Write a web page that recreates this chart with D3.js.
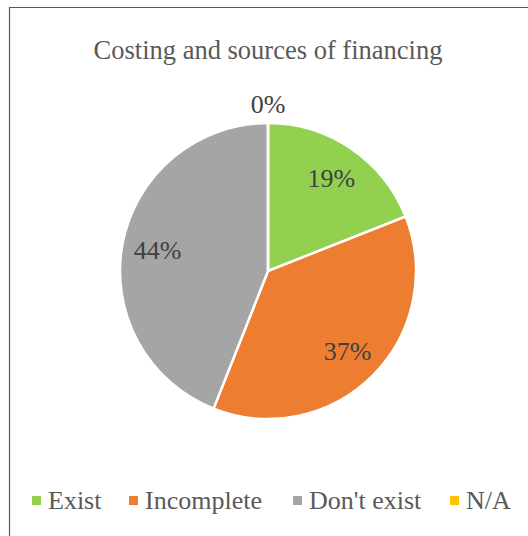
<!DOCTYPE html>
<html>
<head>
<meta charset="utf-8">
<script src="https://cdn.jsdelivr.net/npm/d3@7"></script>
<style>
  body { margin: 0; background: #fff; }
  text { font-family: "Liberation Serif", "Times New Roman", serif; }
</style>
</head>
<body>
<svg width="528" height="536"></svg>
<script>
// Data
const categories = ["Exist", "Incomplete", "Don't exist", "N/A"]
const values = [19, 37, 44, 0]
const labels = ["19%", "37%", "44%", "0%"]
const colors = ["#92D050", "#ED7D31", "#A5A5A5", "#FFC000"]

const svg = d3.select("svg")

// chart frame (only top and left edges visible)
svg.append("path")
    .attr("d", "M9.5,536 V7.5 H528")
    .attr("fill", "none")
    .attr("stroke", "#595959")
    .attr("stroke-width", 1.2)

// title
svg.append("text")
    .attr("x", 268).attr("y", 59)
    .attr("text-anchor", "middle")
    .attr("font-size", 26.5)
    .attr("fill", "#595959")
    .text("Costing and sources of financing")

const cx = 268, cy = 271, r = 148

const pie = d3.pie().sort(null).value(d => d)
const arcs = pie(values)
const arc = d3.arc().innerRadius(0).outerRadius(r)

const g = svg.append("g").attr("transform", `translate(${cx},${cy})`)

g.selectAll("path")
    .data(arcs)
    .join("path")
    .attr("d", arc)
    .attr("fill", (d, i) => colors[i])
    .attr("stroke", "white")
    .attr("stroke-width", 2.5)

// data labels
const labelArc = d3.arc().innerRadius(r * 0.76).outerRadius(r * 0.76)
g.selectAll("text.lbl")
    .data(arcs)
    .join("text")
    .attr("class", "lbl")
    .attr("transform", (d, i) => {
        if (values[i] === 0) return `translate(0,${-r - 19})`
        const c = labelArc.centroid(d)
        return `translate(${c[0]},${c[1]})`
    })
    .attr("text-anchor", "middle")
    .attr("dy", "0.35em")
    .attr("font-size", 26)
    .attr("fill", "#404040")
    .text((d, i) => labels[i])

// legend
const legendX = [32, 129, 293, 450]
const legend = svg.append("g")
    .selectAll("g")
    .data(categories)
    .join("g")
    .attr("transform", (d, i) => `translate(${legendX[i]},500)`)

legend.append("rect")
    .attr("x", 0).attr("y", -4)
    .attr("width", 9).attr("height", 9)
    .attr("fill", (d, i) => colors[i])

legend.append("text")
    .attr("x", 16).attr("dy", "0.35em")
    .attr("font-size", 26)
    .attr("fill", "#595959")
    .text(d => d)
</script>
</body>
</html>
